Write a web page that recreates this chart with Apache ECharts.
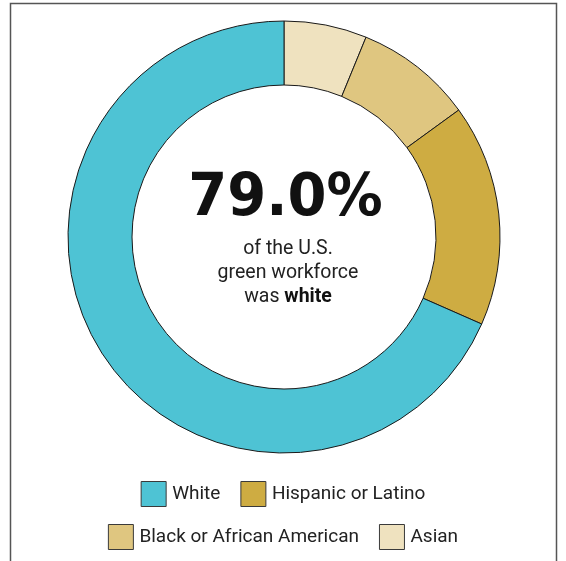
<!DOCTYPE html>
<html>
<head>
<meta charset="utf-8">
<script src="https://cdn.jsdelivr.net/npm/echarts@6/dist/echarts.min.js"></script>
<style>
  html, body { margin: 0; padding: 0; background: #ffffff; }
  #chart { width: 566px; height: 561px; }
</style>
</head>
<body>
<div id="chart"></div>
<script>
// Share of the U.S. green workforce by race / ethnicity (percent)
const categories = ['Asian', 'Black or African American', 'Hispanic or Latino', 'White'];
const shares = [6.2, 8.8, 16.6, 68.4];
const sliceColors = ['#EFE2BF', '#DFC680', '#CEAC42', '#4EC3D4'];

// Legend rows, in reading order
const legendRow1 = ['White', 'Hispanic or Latino'];
const legendRow2 = ['Black or African American', 'Asian'];

// Headline in the hole of the donut
const headline = '79.0%';
const subLines = ['of the U.S.', 'green workforce', 'was '];
const subBold = 'white';

const chart = echarts.init(document.getElementById('chart'), null, { renderer: 'canvas' });

const legendBase = {
  orient: 'horizontal',
  left: 'center',
  padding: 0,
  icon: 'rect',
  itemWidth: 25,
  itemHeight: 25,
  itemGap: 20,
  selectedMode: false,
  itemStyle: { borderColor: '#3a3a3a', borderWidth: 1 },
  textStyle: { fontFamily: 'Roboto', fontSize: 19, color: '#222222', padding: [0, 0, 0, 1] }
};

chart.setOption({
  animation: false,
  backgroundColor: '#ffffff',
  color: sliceColors,
  legend: [
    Object.assign({}, legendBase, { top: 481, data: legendRow1 }),
    Object.assign({}, legendBase, { top: 524, data: legendRow2 })
  ],
  graphic: [
    {
      type: 'rect',
      shape: { x: 10.5, y: 3.5, width: 546, height: 620 },
      style: { fill: 'none', stroke: '#555555', lineWidth: 1.5 },
      silent: true
    },
    {
      type: 'text',
      x: 285.5,
      y: 200,
      scaleX: 0.95,
      style: {
        text: headline,
        fontFamily: 'DejaVu Sans',
        fontWeight: 'bold',
        fontSize: 59,
        fill: '#111111',
        align: 'center',
        verticalAlign: 'middle'
      },
      silent: true
    },
    {
      type: 'text',
      x: 288,
      y: 273,
      style: {
        text: '{n|' + subLines[0] + '}\n{n|' + subLines[1] + '}\n{n|' + subLines[2] + '}{b|' + subBold + '}',
        align: 'center',
        verticalAlign: 'middle',
        rich: {
          n: { fontFamily: 'Roboto', fontSize: 19.5, lineHeight: 24, fill: '#222222' },
          b: { fontFamily: 'Roboto', fontSize: 19.5, lineHeight: 24, fontWeight: 'bold', fill: '#111111' }
        }
      },
      silent: true
    }
  ],
  series: [
    {
      type: 'pie',
      center: [284, 237],
      radius: [152, 216],
      startAngle: 90,
      clockwise: true,
      silent: true,
      label: { show: false },
      labelLine: { show: false },
      itemStyle: { borderColor: '#1a1a1a', borderWidth: 1 },
      data: categories.map((name, i) => ({ name: name, value: shares[i] }))
    }
  ]
});
</script>
</body>
</html>
